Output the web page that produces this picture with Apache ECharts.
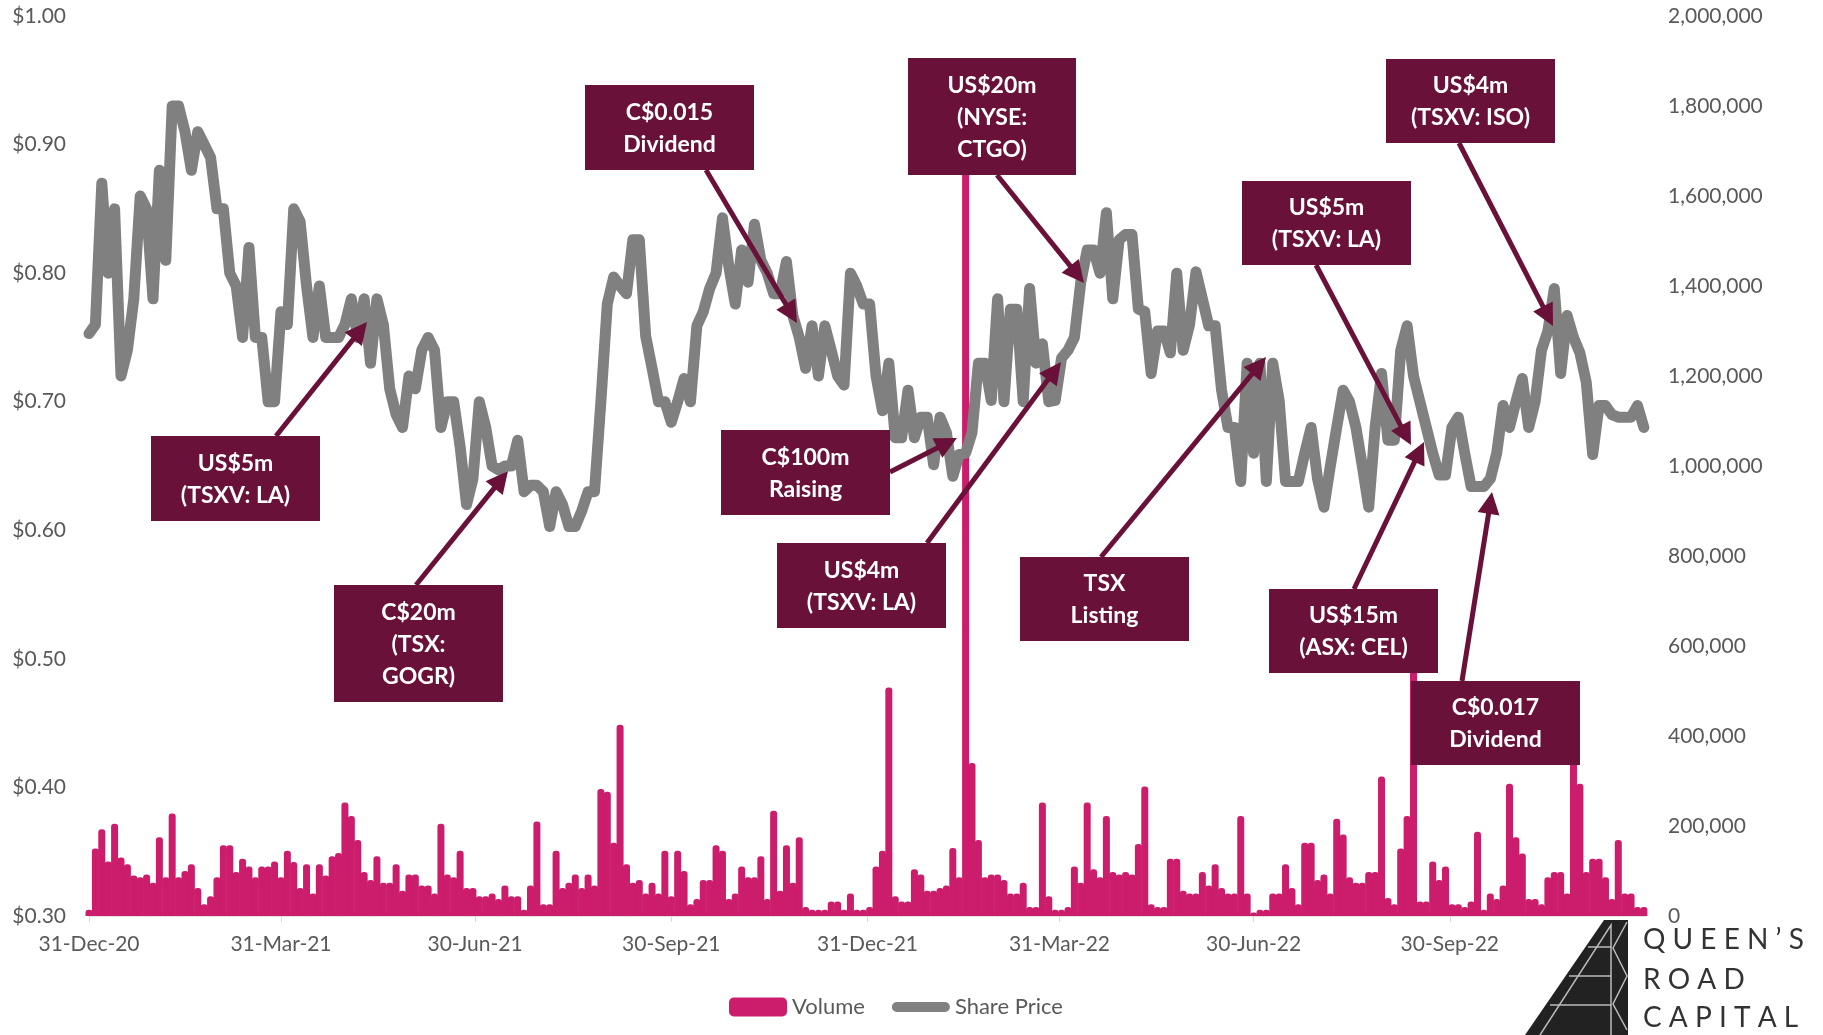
<!DOCTYPE html>
<html>
<head>
<meta charset="utf-8">
<title>Share price and volume</title>
<script src="https://cdn.jsdelivr.net/npm/echarts@6.0.0/dist/echarts.min.js"></script>
<style>
  html, body { margin: 0; padding: 0; background: #fff; }
  #main { width: 1823px; height: 1035px; }
</style>
</head>
<body>
<div id="main"></div>
<script>
// values, one sample every 3 calendar days from 31-Dec-20
// x is counted in days since 31-Dec-20
const stepDays = 3;

const priceValues = [
  0.753, 0.76, 0.87, 0.80, 0.85, 0.72, 0.74, 0.78, 0.86, 0.85,
  0.78, 0.88, 0.81, 0.93, 0.93, 0.91, 0.88, 0.91, 0.90, 0.89,
  0.85, 0.85, 0.80, 0.79, 0.75, 0.82, 0.75, 0.75, 0.70, 0.70,
  0.77, 0.76, 0.85, 0.84, 0.79, 0.75, 0.79, 0.75, 0.75, 0.75,
  0.76, 0.78, 0.75, 0.78, 0.73, 0.78, 0.76, 0.71, 0.69, 0.68,
  0.72, 0.71, 0.74, 0.75, 0.74, 0.68, 0.70, 0.70, 0.665, 0.62,
  0.64, 0.70, 0.68, 0.65, 0.647, 0.65, 0.65, 0.67, 0.63, 0.635,
  0.635, 0.63, 0.603, 0.63, 0.62, 0.603, 0.603, 0.615, 0.63, 0.63,
  0.70, 0.776, 0.797, 0.79, 0.784, 0.826, 0.826, 0.751, 0.726, 0.70,
  0.70, 0.684, 0.70, 0.718, 0.70, 0.759, 0.77, 0.788, 0.80, 0.843,
  0.805, 0.776, 0.818, 0.793, 0.838, 0.81, 0.80, 0.784, 0.784, 0.809,
  0.767, 0.75, 0.726, 0.759, 0.72, 0.759, 0.74, 0.72, 0.713, 0.80,
  0.79, 0.776, 0.776, 0.72, 0.693, 0.73, 0.672, 0.672, 0.709, 0.672,
  0.688, 0.688, 0.651, 0.688, 0.676, 0.642, 0.659, 0.66, 0.676, 0.73,
  0.73, 0.701, 0.78, 0.70, 0.772, 0.772, 0.70, 0.788, 0.73, 0.745,
  0.70, 0.701, 0.734, 0.74, 0.75, 0.793, 0.818, 0.818, 0.80, 0.847,
  0.78, 0.826, 0.83, 0.83, 0.772, 0.77, 0.722, 0.755, 0.755, 0.738,
  0.80, 0.74, 0.76, 0.801, 0.78, 0.759, 0.759, 0.709, 0.68, 0.68,
  0.638, 0.73, 0.66, 0.73, 0.638, 0.73, 0.701, 0.638, 0.638, 0.638,
  0.66, 0.68, 0.64, 0.618, 0.65, 0.68, 0.709, 0.70, 0.68, 0.65,
  0.618, 0.68, 0.722, 0.67, 0.67, 0.74, 0.759, 0.72, 0.70, 0.68,
  0.66, 0.643, 0.643, 0.68, 0.688, 0.66, 0.634, 0.634, 0.634, 0.64,
  0.66, 0.697, 0.68, 0.70, 0.718, 0.68, 0.70, 0.74, 0.755, 0.788,
  0.722, 0.767, 0.75, 0.738, 0.715, 0.659, 0.697, 0.697, 0.69, 0.688,
  0.688, 0.688, 0.697, 0.68
];

const volumeValues = [
  14000, 150000, 193000, 121000, 205000, 130000, 115000, 90000, 86000, 92000,
  74000, 175000, 86000, 228000, 86000, 100000, 115000, 62000, 26000, 44000,
  86000, 157000, 157000, 98000, 127000, 110000, 86000, 110000, 110000, 121000,
  86000, 145000, 120000, 62000, 115000, 50000, 115000, 90000, 133000, 140000,
  252000, 222000, 169000, 98000, 80000, 133000, 74000, 74000, 115000, 56000,
  92000, 92000, 68000, 68000, 50000, 205000, 92000, 86000, 145000, 62000,
  62000, 44000, 44000, 50000, 38000, 68000, 44000, 44000, 14000, 68000,
  210000, 26000, 26000, 145000, 62000, 74000, 92000, 62000, 92000, 68000,
  282000, 276000, 163000, 425000, 115000, 74000, 80000, 50000, 74000, 50000,
  145000, 44000, 145000, 100000, 26000, 38000, 80000, 80000, 157000, 145000,
  38000, 50000, 110000, 86000, 86000, 133000, 38000, 234000, 56000, 157000,
  74000, 175000, 20000, 14000, 14000, 14000, 32000, 32000, 14000, 50000,
  14000, 14000, 20000, 110000, 145000, 508000, 44000, 32000, 32000, 104000,
  92000, 56000, 56000, 62000, 68000, 151000, 86000, 1750000, 340000, 169000,
  86000, 92000, 92000, 80000, 50000, 50000, 74000, 20000, 20000, 252000,
  44000, 14000, 14000, 20000, 110000, 74000, 252000, 104000, 86000, 222000,
  98000, 92000, 98000, 92000, 160000, 288000, 26000, 20000, 20000, 127000,
  127000, 56000, 50000, 50000, 98000, 68000, 115000, 62000, 50000, 50000,
  222000, 50000, 8000, 14000, 14000, 50000, 50000, 115000, 62000, 26000,
  163000, 163000, 80000, 92000, 50000, 216000, 181000, 86000, 74000, 74000,
  98000, 98000, 310000, 40000, 26000, 150000, 222000, 580000, 32000, 32000,
  121000, 80000, 110000, 26000, 26000, 20000, 32000, 187000, 14000, 50000,
  38000, 68000, 294000, 175000, 139000, 38000, 38000, 26000, 86000, 98000,
  98000, 50000, 353000, 294000, 98000, 127000, 127000, 86000, 38000, 169000,
  50000, 50000, 20000, 20000
];

const tickLabels = ['31-Dec-20', '31-Mar-21', '30-Jun-21', '30-Sep-21',
                    '31-Dec-21', '31-Mar-22', '30-Jun-22', '30-Sep-22'];
const tickDays = [0, 90, 181, 273, 365, 455, 546, 638];
const lastDay = 730; // 31-Dec-22

const boxColor = '#6a1139';
const pink = '#cc1c6c';
const grey = '#808080';
const font = 'Lato, "Open Sans", sans-serif';

const priceData = priceValues.map((v, i) => [i * stepDays, v]);
const volumeData = volumeValues.map((v, i) => [i * stepDays, v]);

// annotation boxes: [left, top, width, height, text]
const notes = [
  [151, 436, 169, 85, 'US$5m\n(TSXV: LA)'],
  [334, 585, 169, 117, 'C$20m\n(TSX:\nGOGR)'],
  [585, 85, 169, 85, 'C$0.015\nDividend'],
  [721, 430, 169, 85, 'C$100m\nRaising'],
  [777, 543, 169, 85, 'US$4m\n(TSXV: LA)'],
  [908, 58, 168, 117, 'US$20m\n(NYSE:\nCTGO)'],
  [1020, 557, 169, 84, 'TSX\nListing'],
  [1242, 181, 169, 84, 'US$5m\n(TSXV: LA)'],
  [1269, 589, 169, 84, 'US$15m\n(ASX: CEL)'],
  [1386, 59, 169, 84, 'US$4m\n(TSXV: ISO)'],
  [1411, 681, 169, 84, 'C$0.017\nDividend']
];
// arrows: [fromX, fromY, toX, toY]
const arrows = [
  [276, 436, 367, 322],
  [416, 585, 508, 471],
  [706, 170, 797, 323],
  [890, 472, 957, 438],
  [927, 543, 1061, 362],
  [997, 175, 1084, 283],
  [1101, 557, 1266, 357],
  [1316, 265, 1411, 445],
  [1354, 589, 1424, 442],
  [1459, 143, 1553, 326],
  [1462, 681, 1492, 492]
];

function arrowParts(a) {
  const [x1, y1, x2, y2] = a;
  const dx = x2 - x1, dy = y2 - y1, len = Math.hypot(dx, dy);
  const ux = dx / len, uy = dy / len;
  const hl = 22, hw = 11;
  const bx = x2 - ux * hl, by = y2 - uy * hl;
  return [
    { type: 'line', z: 100, silent: true,
      shape: { x1: x1, y1: y1, x2: bx + ux * 2, y2: by + uy * 2 },
      style: { stroke: boxColor, lineWidth: 5 } },
    { type: 'polygon', z: 100, silent: true,
      shape: { points: [[x2, y2], [bx - uy * hw, by + ux * hw], [bx + uy * hw, by - ux * hw]] },
      style: { fill: boxColor } }
  ];
}

const graphics = [];
notes.forEach(n => {
  graphics.push({ type: 'rect', z: 100, silent: true,
    shape: { x: n[0], y: n[1], width: n[2], height: n[3] },
    style: { fill: boxColor } });
  graphics.push({ type: 'text', z: 101, silent: true,
    x: n[0] + n[2] / 2, y: n[1] + n[3] / 2 + 1,
    style: { text: n[4], fill: '#fff', font: 'bold 23px ' + font,
             align: 'center', verticalAlign: 'middle', lineHeight: 32 } });
});
arrows.forEach(a => graphics.push(...arrowParts(a)));

// logo, bottom right
graphics.push(
  { type: 'polygon', z: 90, silent: true,
    shape: { points: [[1525, 1035], [1604, 920], [1628, 920], [1628, 1035]] },
    style: { fill: '#222222' } },
  { type: 'polyline', z: 91, silent: true,
    shape: { points: [[1540, 1035], [1611, 925], [1611, 1035]] },
    style: { stroke: '#bbb', lineWidth: 1.5 } },
  { type: 'polyline', z: 91, silent: true,
    shape: { points: [[1627, 922], [1613, 948], [1627, 976], [1613, 1004], [1627, 1030]] },
    style: { stroke: '#bbb', lineWidth: 1.5 } },
  { type: 'line', z: 91, silent: true, shape: { x1: 1588, y1: 947, x2: 1611, y2: 947 },
    style: { stroke: '#bbb', lineWidth: 1.5 } },
  { type: 'line', z: 91, silent: true, shape: { x1: 1569, y1: 976, x2: 1611, y2: 976 },
    style: { stroke: '#bbb', lineWidth: 1.5 } },
  { type: 'line', z: 91, silent: true, shape: { x1: 1550, y1: 1005, x2: 1611, y2: 1005 },
    style: { stroke: '#bbb', lineWidth: 1.5 } }
);
[['Q U E E N ’ S', 940], ['R O A D', 980], ['C A P I T A L', 1018]].forEach(t => {
  graphics.push({ type: 'text', z: 91, silent: true, x: 1643, y: t[1],
    style: { text: t[0], fill: '#333333', font: 'normal 28px ' + font,
             align: 'left', verticalAlign: 'middle' } });
});

const chart = echarts.init(document.getElementById('main'));

const option = {
  animation: false,
  backgroundColor: '#ffffff',
  textStyle: { fontFamily: font },
  grid: { left: 89, right: 177, top: 16, bottom: 119, outerBoundsMode: 'none' },
  legend: {
    left: 724, top: 991,
    itemWidth: 58, itemHeight: 19, itemGap: 27,
    textStyle: { color: '#595959', fontSize: 22 },
    data: [
      { name: 'Volume', icon: 'roundRect' },
      { name: 'Share Price', icon: 'path://M8.5,0 H91.5 A8.5,8.5 0 0 1 91.5,17 H8.5 A8.5,8.5 0 0 1 8.5,0 Z' }
    ]
  },
  xAxis: {
    type: 'value',
    min: 0, max: lastDay,
    axisLine: { lineStyle: { color: '#d9d9d9', width: 1.5 } },
    axisTick: { show: true, customValues: tickDays, length: 6, lineStyle: { color: '#d9d9d9' } },
    axisLabel: {
      customValues: tickDays,
      color: '#595959', fontSize: 21, margin: 18,
      formatter: v => {
        const k = tickDays.indexOf(v);
        return k >= 0 ? tickLabels[k] : '';
      }
    },
    splitLine: { show: false }
  },
  yAxis: [
    {
      type: 'value', min: 0.3, max: 1.0, interval: 0.1,
      axisLine: { show: false }, axisTick: { show: false }, splitLine: { show: false },
      axisLabel: { color: '#595959', fontSize: 21, margin: 23,
                   formatter: v => '$' + v.toFixed(2) }
    },
    {
      type: 'value', min: 0, max: 2000000, interval: 200000, position: 'right',
      axisLine: { show: false }, axisTick: { show: false }, splitLine: { show: false },
      axisLabel: { color: '#595959', fontSize: 21, margin: 22,
                   formatter: v => v.toLocaleString('en-US') }
    }
  ],
  series: [
    {
      name: 'Share Price', type: 'line', yAxisIndex: 0,
      data: priceData, symbol: 'none',
      itemStyle: { color: grey },
      lineStyle: { color: grey, width: 11, cap: 'round', join: 'round' }
    },
    {
      name: 'Volume', type: 'bar', yAxisIndex: 1,
      data: volumeData, barWidth: 7, z: 3,
      itemStyle: { color: pink, borderRadius: [3, 3, 0, 0] }
    }
  ],
  graphic: graphics
};

chart.setOption(option);
</script>
</body>
</html>
